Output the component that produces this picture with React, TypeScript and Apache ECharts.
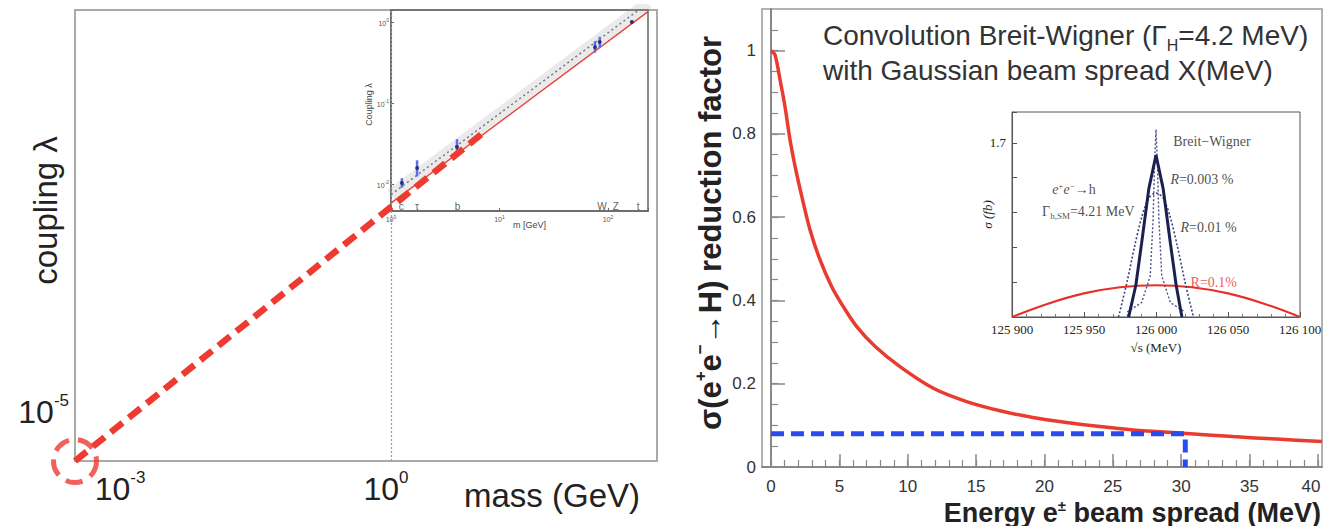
import React, { useEffect, useRef } from 'react';
import * as echarts from 'echarts';

// ---------- Left panel: coupling vs mass (schematic, log-log) ----------
const dashMass = [0.001, 7.5];
const dashCoupling = [2.5e-6, 0.0187];
const circleMass = [0.001];
const circleCoupling = [2.5e-6];
const leftXTickValues = [0.001, 1];
const leftXTickText = ['{pl|}{n|10}{s|-3}', '{n|10}{s|0}{pr|}'];
const leftYTickValues = [1e-5];
const leftYTickText = ['{n|10}{s|-5}'];

// inset of left panel
const insetLineMass = [1, 234];
const insetLineCoupling = [0.0058, 1.35];
const insetBandCoupling = [0.0074, 1.72];
const particleMass = [1.26, 1.74, 4.06, 76, 84, 166];
const particleCoupling = [0.0103, 0.0158, 0.0286, 0.49, 0.566, 1.0];
const particleErrLow = [0.009, 0.0124, 0.0247, 0.42, 0.48, 0.95];
const particleErrHigh = [0.0118, 0.0196, 0.0358, 0.58, 0.66, 1.05];
const particleNames = ['c', 'τ', 'b', 'W', 'Z', 't'];
const particleLabelMass = [1.24, 1.74, 4.1, 88, 118, 190];
const insetXTickText: Record<string, string> = { '1': '{n|10}{s|0}', '10': '{n|10}{s|1}', '100': '{n|10}{s|2}' };
const insetYTickText: Record<string, string> = { '1': '{n|10}{s|0}', '0.1': '{n|10}{s|-1}', '0.01': '{n|10}{s|-2}' };

// ---------- Right panel: reduction factor vs beam spread ----------
const spreadX = [0, 0.29, 0.66, 1.02, 1.39, 1.76, 2.25, 2.85, 3.58, 4.44, 5.29, 6.27, 7.6, 9.43, 11.87, 14.31, 16.75, 19.16, 21.62, 24.06, 26.5, 30.15, 33.8, 37.0, 40.3];
const reduction = [1.0, 0.99, 0.93, 0.866, 0.786, 0.722, 0.65, 0.57, 0.498, 0.433, 0.385, 0.337, 0.29, 0.241, 0.189, 0.157, 0.135, 0.119, 0.107, 0.097, 0.089, 0.081, 0.073, 0.067, 0.061];
const blueX = [0, 30.3, 30.3];
const blueY = [0.08, 0.08, 0];
const rxMajor = [0, 5, 10, 15, 20, 25, 30, 35, 40];
const rxMinor = [0, 1, 2, 3, 4, 5, 6, 7, 8, 9, 10, 11, 12, 13, 14, 15, 16, 17, 18, 19, 20, 21, 22, 23, 24, 25, 26, 27, 28, 29, 30, 31, 32, 33, 34, 35, 36, 37, 38, 39, 40];
const ryMajor = [0, 0.2, 0.4, 0.6, 0.8, 1];
const ryMinor = [0.05, 0.1, 0.15, 0.2, 0.25, 0.3, 0.35, 0.4, 0.45, 0.5, 0.55, 0.6, 0.65, 0.7, 0.75, 0.8, 0.85, 0.9, 0.95, 1.0, 1.05];

// inset of right panel: sigma vs sqrt(s)
const bwX = [125980, 125990, 125996, 125998, 125999, 126000, 126001, 126002, 126004, 126010, 126020];
const bwY = [0.05, 0.14, 0.4, 0.96, 1.49, 1.83, 1.49, 0.96, 0.4, 0.14, 0.05];
const r003X = [125981, 125986, 125990, 125995, 126000, 126005, 126010, 126014, 126018];
const r003Y = [0, 0.31, 0.72, 1.25, 1.58, 1.25, 0.72, 0.31, 0];
const r001X = [125974, 125980, 125985, 125990, 125995, 126000, 126005, 126010, 126015, 126020, 126026];
const r001Y = [0, 0.35, 0.68, 0.97, 1.16, 1.21, 1.16, 0.97, 0.68, 0.35, 0];
const r01X = [125900, 125925, 125950, 125975, 126000, 126025, 126050, 126075, 126100];
const r01Y = [0.0, 0.13, 0.23, 0.29, 0.31, 0.29, 0.23, 0.13, 0.0];
const annText = ['Breit−Wigner', '{i|R}=0.003 %', '{i|e}{s|+}{i|e}{s|−}→h', 'Γ{b|h,SM}=4.21 MeV', '{i|R}=0.01 %', 'R=0.1%'];
const annX = [126012, 126010, 125943, 125953, 126017, 126024];
const annY = [1.71, 1.34, 1.24, 1.03, 0.87, 0.34];
const annAlign = ['left', 'left', 'center', 'center', 'left', 'left'];
const annColor = ['#1a1a1a', '#1a1a1a', '#1a1a1a', '#1a1a1a', '#1a1a1a', '#e8302a'];

const SANS = '"Liberation Sans", Arial, Helvetica, sans-serif';
const SERIF = '"Liberation Serif", "Times New Roman", serif';
const RED = '#ee3a30';

const zip = (a: number[], b: number[]) => a.map((v, i) => [v, b[i]]);
const near = (a: number, b: number) => Math.abs(a - b) < 1e-9 * Math.max(1, Math.abs(b));

export default function App() {
  const ref = useRef<HTMLDivElement>(null);
  useEffect(() => {
    document.body.style.margin = '0';
    const chart = echarts.init(ref.current!, undefined, { renderer: 'svg' });
    const bigRich = {
      n: { fontSize: 32, fontFamily: SANS, color: '#222', lineHeight: 36, verticalAlign: 'bottom' },
      s: { fontSize: 17, fontFamily: SANS, color: '#222', lineHeight: 36, verticalAlign: 'top' },
      pl: { width: 90 },
      pr: { width: 10 },
    };
    const tinyRich = {
      n: { fontSize: 7, fontFamily: SANS, color: '#555', lineHeight: 9, verticalAlign: 'bottom' },
      s: { fontSize: 5, fontFamily: SANS, color: '#555', lineHeight: 9, verticalAlign: 'top' },
    };
    const option: any = {
      animation: false,
      backgroundColor: '#fff',
      textStyle: { fontFamily: SANS },
      title: {
        text: '{t|Convolution Breit-Wigner (Γ}{sub|H}{t|=4.2 MeV)}\n{t|with Gaussian beam spread X(MeV)}',
        left: 818,
        top: 13,
        textStyle: {
          fontWeight: 'normal',
          rich: {
            t: { fontSize: 28, fontWeight: 'normal', color: '#333', fontFamily: SANS, lineHeight: 35, verticalAlign: 'middle' },
            sub: { fontSize: 16, fontWeight: 'normal', color: '#333', fontFamily: SANS, lineHeight: 35, verticalAlign: 'bottom' },
          },
        },
      },
      grid: [
        { left: 75, right: 668, top: 10, bottom: 65, show: true, borderColor: '#aaa', borderWidth: 2, outerBoundsMode: 'none', containLabel: false },
        { left: 391, right: 677, top: 10, bottom: 315, show: true, borderColor: '#666', borderWidth: 1.5, outerBoundsMode: 'none', containLabel: false },
        { left: 762, right: 3, top: 9, bottom: 59, show: true, borderColor: '#999', borderWidth: 1.5, outerBoundsMode: 'none', containLabel: false },
        { left: 1012, right: 25, top: 112, bottom: 209, show: true, borderColor: '#555', borderWidth: 1, outerBoundsMode: 'none', containLabel: false },
      ],
      xAxis: [
        {
          gridIndex: 0, type: 'log', logBase: 10, min: 0.001, max: 335,
          axisLine: { show: false }, axisTick: { show: false }, splitLine: { show: false },
          axisLabel: {
            margin: 8,
            formatter: (v: number) => {
              const i = leftXTickValues.findIndex((t) => near(v, t));
              return i >= 0 ? leftXTickText[i] : '';
            },
            rich: bigRich,
          },
          name: 'mass (GeV)', nameLocation: 'end', nameGap: -17, nameMoveOverlap: false,
          nameTextStyle: { fontSize: 33, color: '#222', fontFamily: SANS, align: 'right', verticalAlign: 'top', padding: [18, 0, 0, 0] },
        },
        {
          gridIndex: 1, type: 'log', logBase: 10, min: 1, max: 234,
          axisLine: { show: true, lineStyle: { color: '#666', width: 1.5 } },
          axisTick: { show: true, inside: true, length: 3, lineStyle: { color: '#666' } },
          splitLine: { show: false },
          axisLabel: {
            margin: 3,
            formatter: (v: number) => insetXTickText[String(Math.round(v * 1000) / 1000)] || '',
            rich: tinyRich,
          },
          name: 'm [GeV]', nameLocation: 'middle', nameGap: 9, nameMoveOverlap: false,
          nameTextStyle: { fontSize: 9, color: '#444', fontFamily: SANS, padding: [0, 0, 0, 20] },
        },
        {
          gridIndex: 2, type: 'value', min: -0.66, max: 40.3,
          axisLine: { show: true, lineStyle: { color: '#888', width: 2 } },
          axisTick: { show: true, inside: true, length: 13, customValues: rxMajor, lineStyle: { color: '#888', width: 1.5 } },
          axisLabel: {
            customValues: rxMajor, fontSize: 17, color: '#333', margin: 11, fontFamily: SANS,
            formatter: (v: number) => (v === 40 ? '{r|40}' : String(v)),
            rich: { r: { fontSize: 17, color: '#333', fontFamily: SANS, padding: [0, 14, 0, 0] } },
          },
          splitLine: { show: false },
          name: '{a|Energy e}{s|±}{a| beam spread (MeV)}', nameLocation: 'end', nameGap: -1, nameMoveOverlap: false,
          nameTextStyle: {
            align: 'right', verticalAlign: 'top', padding: [31, 0, 0, 0],
            rich: {
              a: { fontSize: 27, fontWeight: 'bold', color: '#222', fontFamily: SANS, lineHeight: 28, verticalAlign: 'bottom' },
              s: { fontSize: 15, fontWeight: 'bold', color: '#222', fontFamily: SANS, lineHeight: 28, verticalAlign: 'top' },
            },
          },
        },
        {
          gridIndex: 2, type: 'value', min: -0.66, max: 40.3, position: 'bottom', offset: 0,
          axisLine: { show: false },
          axisTick: { show: true, inside: true, length: 7, customValues: rxMinor, lineStyle: { color: '#888', width: 1.2 } },
          axisLabel: { show: false }, splitLine: { show: false },
        },
        {
          gridIndex: 3, type: 'value', min: 125900, max: 126100, interval: 50,
          axisLine: { show: true, lineStyle: { color: '#555', width: 1 } },
          axisTick: { show: true, inside: true, length: 5, lineStyle: { color: '#555' } },
          minorTick: { show: true, splitNumber: 5, length: 3, lineStyle: { color: '#777' } },
          splitLine: { show: false },
          axisLabel: {
            margin: 6, fontSize: 13, color: '#222', fontFamily: SERIF,
            formatter: (v: number) => { const s = String(Math.round(v)); return s.slice(0, 3) + ' ' + s.slice(3); },
          },
          name: '√s (MeV)', nameLocation: 'middle', nameGap: 24, nameMoveOverlap: false,
          nameTextStyle: { fontSize: 13, color: '#222', fontFamily: SERIF },
        },
      ],
      yAxis: [
        {
          gridIndex: 0, type: 'log', logBase: 10, min: 2.5e-6, max: 0.528,
          axisLine: { show: false }, axisTick: { show: false }, splitLine: { show: false },
          axisLabel: {
            margin: 6,
            formatter: (v: number) => {
              const i = leftYTickValues.findIndex((t) => near(v, t));
              return i >= 0 ? leftYTickText[i] : '';
            },
            rich: bigRich,
          },
          name: 'coupling λ', nameLocation: 'middle', nameGap: 13, nameMoveOverlap: false,
          nameTextStyle: { fontSize: 33, color: '#222', fontFamily: SANS, padding: [0, 0, 0, 50] },
        },
        {
          gridIndex: 1, type: 'log', logBase: 10, min: 0.00464, max: 1.41,
          axisLine: { show: true, lineStyle: { color: '#666', width: 1.5 } },
          axisTick: { show: true, inside: true, length: 3, lineStyle: { color: '#666' } },
          splitLine: { show: false },
          axisLabel: {
            margin: 2,
            formatter: (v: number) => insetYTickText[String(Math.round(v * 10000) / 10000)] || '',
            rich: tinyRich,
          },
          name: 'Coupling λ', nameLocation: 'middle', nameGap: 18, nameMoveOverlap: false,
          nameTextStyle: { fontSize: 9, color: '#444', fontFamily: SANS, padding: [0, 0, 0, 12] },
        },
        {
          gridIndex: 2, type: 'value', min: 0, max: 1.1,
          axisLine: { show: true, lineStyle: { color: '#888', width: 2 } },
          axisTick: { show: true, inside: true, length: 14, customValues: ryMajor, lineStyle: { color: '#888', width: 1.5 } },
          axisLabel: { customValues: ryMajor, fontSize: 17, color: '#333', margin: 6, fontFamily: SANS },
          splitLine: { show: false },
          name: '{a|σ(e}{s|+}{a|e}{s|−}{a|→H) reduction factor}', nameLocation: 'middle', nameGap: 36, nameMoveOverlap: false,
          nameTextStyle: {
            padding: [0, 0, 0, 10],
            rich: {
              a: { fontSize: 31, fontWeight: 'bold', color: '#222', fontFamily: SANS, lineHeight: 34, verticalAlign: 'bottom' },
              s: { fontSize: 17, fontWeight: 'bold', color: '#222', fontFamily: SANS, lineHeight: 34, verticalAlign: 'top' },
            },
          },
        },
        {
          gridIndex: 2, type: 'value', min: 0, max: 1.1, position: 'left', offset: 0,
          axisLine: { show: false },
          axisTick: { show: true, inside: true, length: 7, customValues: ryMinor, lineStyle: { color: '#888', width: 1.2 } },
          axisLabel: { show: false }, splitLine: { show: false },
        },
        {
          gridIndex: 3, type: 'value', min: 0, max: 2.0, interval: 0.34,
          axisLine: { show: true, lineStyle: { color: '#555', width: 1 } },
          axisTick: { show: true, inside: true, length: 5, lineStyle: { color: '#555' } },
          splitLine: { show: false },
          axisLabel: {
            margin: 6, fontSize: 13, color: '#222', fontFamily: SERIF,
            formatter: (v: number) => (Math.abs(v - 1.7) < 1e-6 ? '1.7' : ''),
          },
          name: 'σ (fb)', nameLocation: 'middle', nameGap: 18, nameMoveOverlap: false,
          nameTextStyle: { fontSize: 13, color: '#222', fontFamily: SERIF, fontStyle: 'italic', padding: [0, 0, 0, 0] },
        },
      ],
      series: [
        // ---- left inset ----
        {
          type: 'line', xAxisIndex: 1, yAxisIndex: 1, symbol: 'none', silent: true,
          data: zip(insetLineMass, insetBandCoupling),
          lineStyle: { color: 'rgba(160,160,160,0.22)', width: 12 }, z: 3,
        },
        {
          type: 'line', xAxisIndex: 1, yAxisIndex: 1, symbol: 'none', silent: true,
          data: zip(insetLineMass, insetBandCoupling),
          lineStyle: { color: '#777', width: 1.5, type: [2, 3] }, z: 3,
        },
        {
          type: 'line', xAxisIndex: 1, yAxisIndex: 1, symbol: 'none', silent: true,
          data: zip(insetLineMass, insetLineCoupling),
          lineStyle: { color: '#e8443a', width: 1.5 }, z: 4,
        },
        {
          type: 'custom', xAxisIndex: 1, yAxisIndex: 1, silent: true, z: 5,
          data: particleMass.map((m, i) => [m, particleErrLow[i], particleErrHigh[i]]),
          renderItem: (_p: any, api: any) => {
            const a = api.coord([api.value(0), api.value(1)]);
            const b = api.coord([api.value(0), api.value(2)]);
            return { type: 'line', shape: { x1: a[0], y1: a[1], x2: b[0], y2: b[1] }, style: { stroke: '#5a6cf0', lineWidth: 2.5 } };
          },
        },
        {
          type: 'scatter', xAxisIndex: 1, yAxisIndex: 1, silent: true, z: 6,
          data: zip(particleMass, particleCoupling), symbolSize: 4,
          itemStyle: { color: '#1e2250' },
        },
        {
          type: 'scatter', xAxisIndex: 1, yAxisIndex: 1, silent: true, z: 6, symbolSize: 0,
          data: particleNames.map((n, i) => ({ name: n, value: [particleLabelMass[i], 0.0052] })),
          label: { show: true, position: 'inside', formatter: '{b}', fontSize: 10, color: '#333', fontFamily: SANS },
        },
        // ---- left main ----
        {
          type: 'line', xAxisIndex: 0, yAxisIndex: 0, symbol: 'none', silent: true, data: [],
          markLine: {
            symbol: 'none', silent: true, label: { show: false },
            lineStyle: { type: [2, 2], color: '#999', width: 1.2 },
            data: [{ xAxis: 1 }],
          },
        },
        {
          type: 'line', xAxisIndex: 0, yAxisIndex: 0, symbol: 'none', silent: true, z: 10,
          data: zip(dashMass, dashCoupling),
          lineStyle: { color: RED, width: 6.5, type: [15, 8] },
        },
        {
          type: 'scatter', xAxisIndex: 0, yAxisIndex: 0, silent: true, z: 10, clip: false,
          data: zip(circleMass, circleCoupling), symbolSize: 43,
          itemStyle: { color: 'rgba(0,0,0,0)', borderColor: RED, borderWidth: 5, borderType: [17, 9] },
        },
        // ---- right main ----
        {
          type: 'line', xAxisIndex: 2, yAxisIndex: 2, symbol: 'none', silent: true, smooth: 0.3, z: 5,
          data: zip(spreadX, reduction),
          lineStyle: { color: '#ea3b31', width: 3.5 },
        },
        {
          type: 'line', xAxisIndex: 2, yAxisIndex: 2, symbol: 'none', silent: true, z: 6,
          data: zip(blueX, blueY),
          lineStyle: { color: '#2a4bf0', width: 5, type: [13, 7] },
        },
        // ---- right inset ----
        {
          type: 'line', xAxisIndex: 4, yAxisIndex: 4, symbol: 'none', silent: true, smooth: 0.4,
          data: zip(r01X, r01Y), lineStyle: { color: '#e8302a', width: 2.2 },
        },
        {
          type: 'line', xAxisIndex: 4, yAxisIndex: 4, symbol: 'none', silent: true, smooth: 0.3,
          data: zip(r001X, r001Y), lineStyle: { color: '#3a3f78', width: 1.6, type: [2, 2] },
        },
        {
          type: 'line', xAxisIndex: 4, yAxisIndex: 4, symbol: 'none', silent: true,
          data: zip(bwX, bwY), lineStyle: { color: '#4a4f88', width: 1.4, type: [2, 2] },
        },
        {
          type: 'line', xAxisIndex: 4, yAxisIndex: 4, symbol: 'none', silent: true,
          data: zip(r003X, r003Y), lineStyle: { color: '#1c2050', width: 3 },
        },
        {
          type: 'scatter', xAxisIndex: 4, yAxisIndex: 4, silent: true, symbolSize: 0, z: 8,
          data: annText.map((t, i) => ({
            value: [annX[i], annY[i]],
            label: { formatter: t, align: annAlign[i], color: annColor[i] },
          })),
          label: {
            show: true, position: 'inside', fontSize: 14, fontFamily: SERIF, color: '#1a1a1a',
            rich: {
              i: { fontSize: 14, fontFamily: SERIF, fontStyle: 'italic', color: '#1a1a1a' },
              s: { fontSize: 9, fontFamily: SERIF, color: '#1a1a1a', verticalAlign: 'top', lineHeight: 16 },
              b: { fontSize: 9, fontFamily: SERIF, color: '#1a1a1a', verticalAlign: 'bottom', lineHeight: 18 },
            },
          },
        },
      ],
    };
    chart.setOption(option);
    return () => chart.dispose();
  }, []);
  return <div ref={ref} style={{ width: 1325, height: 526 }} />;
}
